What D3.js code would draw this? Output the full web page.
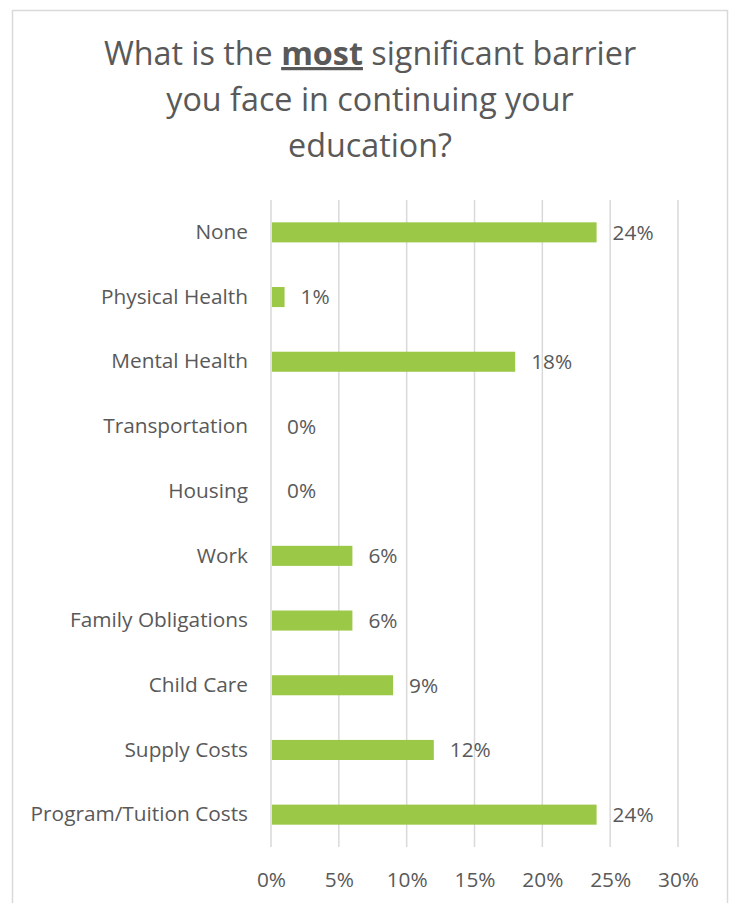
<!DOCTYPE html>
<html>
<head>
<meta charset="utf-8">
<script src="https://cdn.jsdelivr.net/npm/d3@7"></script>
<style>
  html, body { margin: 0; padding: 0; background: #fff; }
  svg { display: block; }
  text { font-family: "Open Sans", sans-serif; fill: #595959; }
</style>
</head>
<body>
<svg id="chart" width="733" height="903"></svg>
<script>
// Survey responses: most significant barrier to continuing education
const categories = [
  "None", "Physical Health", "Mental Health", "Transportation", "Housing",
  "Work", "Family Obligations", "Child Care", "Supply Costs", "Program/Tuition Costs"
];
const shares = [0.24, 0.01, 0.18, 0, 0, 0.06, 0.06, 0.09, 0.12, 0.24];
const tickValues = [0, 0.05, 0.10, 0.15, 0.20, 0.25, 0.30];

const FONT = "'Open Sans', sans-serif";
const LABEL_SIZE = 20.8;
const svg = d3.select("#chart");

// Outer chart frame
svg.append("rect")
  .attr("x", 12.5).attr("y", 10.5)
  .attr("width", 715).attr("height", 900)
  .attr("fill", "#fff").attr("stroke", "#d9d9d9").attr("stroke-width", 1.5);

// Title
const title = svg.append("text")
  .attr("text-anchor", "middle")
  .attr("font-size", 32.3);
const t1 = title.append("tspan").attr("x", 370).attr("y", 65);
t1.append("tspan").text("What is the ");
t1.append("tspan").attr("font-weight", "bold").attr("text-decoration", "underline").text("most");
t1.append("tspan").text(" significant barrier");
title.append("tspan").attr("x", 370).attr("y", 111).text("you face in continuing your");
title.append("tspan").attr("x", 370).attr("y", 157).text("education?");

const x = d3.scaleLinear().domain([0, 0.30]).range([271, 678]);
const y = d3.scaleBand().domain(categories).range([200, 847])
  .paddingInner(0.69).paddingOuter(0.345);

// Vertical gridlines
svg.append("g")
  .selectAll("line")
  .data(tickValues)
  .join("line")
  .attr("x1", d => x(d)).attr("x2", d => x(d))
  .attr("y1", 200).attr("y2", 847)
  .attr("stroke", "#d9d9d9").attr("stroke-width", 1.5);

// Bottom axis labels
const xAxis = d3.axisBottom(x).tickValues(tickValues)
  .tickFormat(d3.format(".0%")).tickSize(0).tickPadding(0);
const gx = svg.append("g").attr("transform", "translate(0,872)").call(xAxis);
gx.select(".domain").remove();
gx.selectAll("text").attr("font-size", LABEL_SIZE).attr("fill", "#595959")
  .attr("font-family", FONT);

// Category labels
const yAxis = d3.axisLeft(y).tickSize(0).tickPadding(0);
const gy = svg.append("g").attr("transform", "translate(248,0)").call(yAxis);
gy.select(".domain").remove();
gy.selectAll("text").attr("font-size", LABEL_SIZE).attr("fill", "#595959")
  .attr("font-family", FONT);

// Bars
const rows = categories.map((c, i) => ({ category: c, value: shares[i] }));
svg.append("g")
  .selectAll("rect")
  .data(rows)
  .join("rect")
  .attr("x", x(0) + 1)
  .attr("y", d => y(d.category))
  .attr("width", d => Math.max(0, x(d.value) - x(0) - 1))
  .attr("height", y.bandwidth())
  .attr("fill", "#9bc846");

// Value labels
svg.append("g")
  .selectAll("text")
  .data(rows)
  .join("text")
  .attr("x", d => x(d.value) + 16)
  .attr("y", d => y(d.category) + y.bandwidth() / 2)
  .attr("dy", "0.35em")
  .attr("font-size", LABEL_SIZE)
  .text(d => d3.format(".0%")(d.value));
</script>
</body>
</html>
